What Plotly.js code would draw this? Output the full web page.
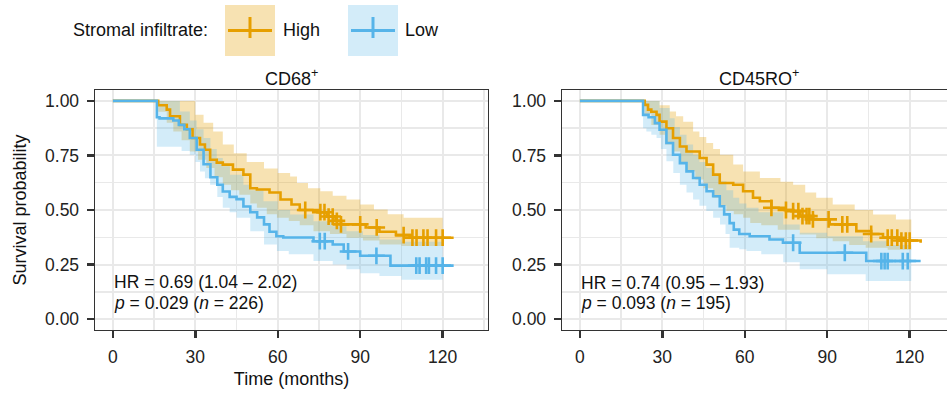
<!DOCTYPE html>
<html><head><meta charset="utf-8">
<script src="https://cdn.plot.ly/plotly-3.0.1.min.js"></script>
<style>html,body{margin:0;padding:0;overflow:hidden;background:#fff}#chart{width:960px;height:393px}</style>
</head><body><div id="chart"></div>
<script>
// ---------- Data ----------
const panelTitles = ['CD68<sup>+</sup>', 'CD45RO<sup>+</sup>'];
const groupNames = ['High', 'Low'];

// CD68+ : High
const cd68HighT = [0, 16.5, 19.6, 20.8, 24.4, 26.9, 29, 31.7, 33.5, 35.4, 37.8, 40, 43.7, 47.5, 50, 52.4, 57, 61, 65, 68, 75, 78, 81, 83, 92, 97, 103, 108, 124];
const cd68HighS = [1.0, 0.98, 0.96, 0.93, 0.89, 0.87, 0.83, 0.80, 0.776, 0.73, 0.717, 0.708, 0.685, 0.662, 0.60, 0.594, 0.58, 0.548, 0.525, 0.50, 0.49, 0.47, 0.45, 0.434, 0.42, 0.40, 0.385, 0.373, 0.373];
const cd68HighCens = [70, 75.5, 77, 78.5, 80, 81.5, 83, 90, 96, 105.8, 109, 110.5, 113, 114.5, 117.6, 120];
const cd68HighUpT = [16.5, 30, 33, 36.5, 40, 44, 48.7, 55, 60, 64.5, 67, 71, 75.5, 80, 85, 90, 95, 100, 105.8, 120];
const cd68HighUpS = [1.0, 0.936, 0.90, 0.86, 0.80, 0.76, 0.72, 0.69, 0.67, 0.654, 0.624, 0.60, 0.586, 0.565, 0.548, 0.525, 0.502, 0.48, 0.464, 0.457];
const cd68HighLoT = [16.5, 19.6, 22, 25, 28, 31, 34, 37, 40, 43, 46, 50, 52.4, 56, 59.7, 64, 68, 73, 79, 85, 91, 97, 105, 120];
const cd68HighLoS = [0.95, 0.90, 0.86, 0.82, 0.768, 0.73, 0.692, 0.65, 0.616, 0.59, 0.57, 0.53, 0.51, 0.48, 0.464, 0.45, 0.43, 0.403, 0.39, 0.373, 0.36, 0.342, 0.335, 0.327];

// CD68+ : Low
const cd68LowT = [0, 16, 17, 22, 24, 26, 28, 30.5, 33, 35.5, 38, 40, 42.5, 45, 47.5, 50, 52.5, 55, 57, 59.5, 62, 73, 80, 84, 90, 101, 124];
const cd68LowS = [1.0, 0.925, 0.92, 0.91, 0.89, 0.87, 0.83, 0.776, 0.71, 0.65, 0.616, 0.585, 0.56, 0.55, 0.516, 0.49, 0.466, 0.434, 0.40, 0.38, 0.374, 0.357, 0.342, 0.31, 0.29, 0.245, 0.245];
const cd68LowCens = [75.3, 77.1, 85.6, 95.9, 110.4, 111.6, 114, 115, 117.6, 120];
const cd68LowUpT = [16, 24.4, 28, 30.5, 33, 35.5, 37.8, 40, 42.6, 47.5, 50, 54.8, 60, 64.5, 73, 80, 85, 91, 97, 105, 120];
const cd68LowUpS = [1.0, 0.951, 0.91, 0.87, 0.83, 0.78, 0.738, 0.70, 0.662, 0.616, 0.59, 0.54, 0.50, 0.479, 0.449, 0.425, 0.403, 0.385, 0.365, 0.355, 0.342];
const cd68LowLoT = [16, 25, 28, 30, 31.7, 33.5, 35.4, 38, 40, 42.5, 45, 50, 55, 59.7, 64, 73, 80, 85, 90, 97, 105, 120];
const cd68LowLoS = [0.79, 0.77, 0.753, 0.72, 0.677, 0.645, 0.616, 0.56, 0.51, 0.49, 0.464, 0.403, 0.342, 0.312, 0.297, 0.266, 0.25, 0.228, 0.21, 0.198, 0.18, 0.16];

// CD45RO+ : High
const cd45HighT = [0, 23.6, 24.8, 26, 27.9, 29, 31.5, 33.9, 36.4, 38.8, 43.6, 46.1, 48.5, 50.9, 55.8, 59.4, 63, 65.5, 69.7, 74.5, 77.6, 80, 84.8, 90.9, 100.6, 106, 110.3, 116, 124];
const cd45HighS = [1.0, 0.982, 0.96, 0.95, 0.936, 0.905, 0.875, 0.83, 0.791, 0.768, 0.738, 0.708, 0.662, 0.624, 0.616, 0.586, 0.556, 0.54, 0.51, 0.50, 0.495, 0.472, 0.457, 0.434, 0.403, 0.39, 0.373, 0.36, 0.35];
const cd45HighCens = [69.7, 75, 77.6, 79.5, 81, 82.5, 83.5, 84.8, 90.5, 95.5, 97.3, 106, 112, 113.5, 115.5, 117, 118.6, 120];
const cd45HighUpT = [23.6, 29, 32.7, 35, 37.6, 41.2, 43.5, 46, 48.5, 51, 55.8, 59.4, 65.5, 73, 77.6, 82, 86, 92, 100, 106.7, 115, 120.6];
const cd45HighUpS = [1.0, 0.98, 0.951, 0.93, 0.905, 0.86, 0.835, 0.807, 0.78, 0.753, 0.708, 0.677, 0.647, 0.63, 0.616, 0.58, 0.556, 0.525, 0.50, 0.479, 0.457, 0.44];
const cd45HighLoT = [23.6, 26, 29, 31, 34, 36.5, 38.8, 42, 45, 48.5, 51, 53.3, 56, 59.4, 62, 66, 72, 80, 86, 92, 98, 104, 112, 120.6];
const cd45HighLoS = [0.94, 0.89, 0.845, 0.80, 0.768, 0.72, 0.677, 0.64, 0.60, 0.556, 0.52, 0.495, 0.48, 0.464, 0.44, 0.43, 0.41, 0.388, 0.37, 0.357, 0.34, 0.327, 0.318, 0.312];

// CD45RO+ : Low
const cd45LowT = [0, 23, 25, 27.3, 29, 31.5, 33.9, 36.4, 38.8, 41.2, 43.6, 46.1, 48.5, 50.9, 52.5, 54.5, 56, 58, 61.8, 69, 73.9, 80, 104.2, 124];
const cd45LowS = [1.0, 0.936, 0.925, 0.898, 0.868, 0.807, 0.753, 0.715, 0.677, 0.647, 0.616, 0.586, 0.563, 0.517, 0.48, 0.44, 0.41, 0.39, 0.38, 0.365, 0.35, 0.304, 0.266, 0.266];
const cd45LowCens = [77.6, 96.4, 109.7, 110.9, 112, 117.5, 119.3];
const cd45LowUpT = [23, 29, 32.7, 34.5, 36.4, 38.8, 41.2, 43.5, 46, 48.5, 51, 53.3, 55.8, 58, 60.6, 65, 74, 80, 90, 103, 112, 120.6];
const cd45LowUpS = [1.0, 0.967, 0.92, 0.88, 0.845, 0.80, 0.753, 0.72, 0.692, 0.66, 0.632, 0.59, 0.556, 0.53, 0.51, 0.49, 0.434, 0.396, 0.38, 0.357, 0.34, 0.327];
const cd45LowLoT = [23, 24.2, 26, 27.9, 29.5, 31.5, 34, 36.4, 38.8, 41.2, 43.5, 46, 48.5, 51, 53, 54.5, 58, 60.6, 66, 74, 80, 90, 104, 120.6];
const cd45LowLoS = [0.875, 0.86, 0.845, 0.83, 0.78, 0.723, 0.67, 0.616, 0.58, 0.548, 0.52, 0.495, 0.465, 0.434, 0.39, 0.327, 0.32, 0.312, 0.297, 0.26, 0.228, 0.205, 0.175, 0.175];

const statsLine1 = ['HR = 0.69 (1.04 – 2.02)', 'HR = 0.74 (0.95 – 1.93)'];
const statsLine2 = ['<i>p</i> = 0.029 (<i>n</i> = 226)', '<i>p</i> = 0.093 (<i>n</i> = 195)'];

// ---------- Styling ----------
const W = 960, H = 393;
const FONT = '"Liberation Sans", Arial, Helvetica, sans-serif';
const colLine = {High: '#E69F00', Low: '#56B4E9'};
const colFill = {High: 'rgba(230,159,0,0.30)', Low: 'rgba(86,180,233,0.26)'};
const px = v => v / W;
const py = v => 1 - v / H;

function stepAt(T, S, t) { let v = S[0]; for (let i = 0; i < T.length; i++) if (T[i] <= t) v = S[i]; return v; }

const panels = [
  {xa: 'x', ya: 'y', High: [cd68HighT, cd68HighS, cd68HighCens, cd68HighUpT, cd68HighUpS, cd68HighLoT, cd68HighLoS],
                     Low: [cd68LowT, cd68LowS, cd68LowCens, cd68LowUpT, cd68LowUpS, cd68LowLoT, cd68LowLoS]},
  {xa: 'x2', ya: 'y2', High: [cd45HighT, cd45HighS, cd45HighCens, cd45HighUpT, cd45HighUpS, cd45HighLoT, cd45HighLoS],
                       Low: [cd45LowT, cd45LowS, cd45LowCens, cd45LowUpT, cd45LowUpS, cd45LowLoT, cd45LowLoS]}
];

const traces = [];
panels.forEach(p => {
  groupNames.forEach(g => {
    const [T, S, C, UT, US, LT, LS] = p[g];
    traces.push({x: LT, y: LS, xaxis: p.xa, yaxis: p.ya, mode: 'lines', line: {shape: 'hv', width: 0, color: 'rgba(0,0,0,0)'}, showlegend: false, hoverinfo: 'skip'});
    traces.push({x: UT, y: US, xaxis: p.xa, yaxis: p.ya, mode: 'lines', line: {shape: 'hv', width: 0, color: 'rgba(0,0,0,0)'}, fill: 'tonexty', fillcolor: colFill[g], showlegend: false, hoverinfo: 'skip'});
  });
  groupNames.forEach(g => {
    const [T, S] = p[g];
    traces.push({x: T, y: S, xaxis: p.xa, yaxis: p.ya, mode: 'lines', name: g, line: {shape: 'hv', width: 2.6, color: colLine[g]}, showlegend: false});
  });
  groupNames.forEach(g => {
    const [T, S, C] = p[g];
    traces.push({x: C, y: C.map(t => stepAt(T, S, t)), xaxis: p.xa, yaxis: p.ya, mode: 'markers', showlegend: false,
      marker: {symbol: 'cross-thin', size: 12, color: colLine[g], line: {width: 2.6, color: colLine[g]}}});
  });
});

const grid = '#e9e9e9';
function xAxis(domain, anchor, withTitle) {
  const a = {domain, anchor, range: [-6.5, 136.5], tickmode: 'linear', tick0: 0, dtick: 30, ticks: 'outside', ticklen: 7, tickwidth: 2.4, tickcolor: '#333',
    showline: true, mirror: true, linecolor: '#333', linewidth: 1.4, showgrid: true, gridcolor: grid, gridwidth: 2, zeroline: false,
    minor: {dtick: 15, tick0: 0, showgrid: true, gridcolor: grid, gridwidth: 1.4, ticks: ''},
    tickfont: {family: FONT, size: 17.5, color: '#222'}, ticklabelstandoff: 4, fixedrange: true};
  if (withTitle) a.title = {text: 'Time (months)', font: {family: FONT, size: 18, color: '#111'}, standoff: 6};
  return a;
}
function yAxis(anchor, withTitle) {
  const a = {domain: [1 - 330 / H, 1 - 90 / H], anchor, range: [-0.05, 1.05], tickmode: 'linear', tick0: 0, dtick: 0.25, tickformat: '.2f',
    ticks: 'outside', ticklen: 7, tickwidth: 2.4, tickcolor: '#333', showline: true, mirror: true, linecolor: '#333', linewidth: 1.4,
    showgrid: true, gridcolor: grid, gridwidth: 2, zeroline: false,
    minor: {dtick: 0.125, tick0: 0, showgrid: true, gridcolor: grid, gridwidth: 1.4, ticks: ''},
    tickfont: {family: FONT, size: 17.5, color: '#222'}, ticklabelstandoff: 4, fixedrange: true};
  if (withTitle) a.title = {text: 'Survival probability', font: {family: FONT, size: 18, color: '#111'}, standoff: 13};
  return a;
}

const annFont = {family: FONT, size: 18, color: '#111'};
const statFont = {family: FONT, size: 17.5, color: '#111'};
const annotations = [
  {xref: 'paper', yref: 'paper', x: px(291.5), y: py(77), text: panelTitles[0], showarrow: false, xanchor: 'center', yanchor: 'middle', font: annFont},
  {xref: 'paper', yref: 'paper', x: px(758.5), y: py(77), text: panelTitles[1], showarrow: false, xanchor: 'center', yanchor: 'middle', font: annFont},
  {xref: 'x', yref: 'y', x: 0, y: 0.1705, text: statsLine1[0], showarrow: false, xanchor: 'left', yanchor: 'middle', font: statFont, borderpad: 0},
  {xref: 'x', yref: 'y', x: 0, y: 0.075, text: statsLine2[0], showarrow: false, xanchor: 'left', yanchor: 'middle', font: statFont, borderpad: 0},
  {xref: 'x2', yref: 'y2', x: 0, y: 0.166, text: statsLine1[1], showarrow: false, xanchor: 'left', yanchor: 'middle', font: statFont, borderpad: 0},
  {xref: 'x2', yref: 'y2', x: 0, y: 0.073, text: statsLine2[1], showarrow: false, xanchor: 'left', yanchor: 'middle', font: statFont, borderpad: 0},
  {xref: 'paper', yref: 'paper', x: px(210), y: py(30), text: 'Stromal infiltrate:', showarrow: false, xanchor: 'right', yanchor: 'middle', font: annFont},
  {xref: 'paper', yref: 'paper', x: px(281), y: py(30), text: groupNames[0], showarrow: false, xanchor: 'left', yanchor: 'middle', font: annFont},
  {xref: 'paper', yref: 'paper', x: px(403), y: py(30), text: groupNames[1], showarrow: false, xanchor: 'left', yanchor: 'middle', font: annFont}
];

const shapes = [];
[[225, 'High'], [348, 'Low']].forEach(([x0, g]) => {
  shapes.push({type: 'rect', xref: 'paper', yref: 'paper', x0: px(x0), x1: px(x0 + 50), y0: py(56), y1: py(5), fillcolor: colFill[g], line: {width: 0}});
  shapes.push({type: 'line', xref: 'paper', yref: 'paper', x0: px(x0 + 3), x1: px(x0 + 47), y0: py(30.5), y1: py(30.5), line: {color: colLine[g], width: 3}});
  shapes.push({type: 'line', xref: 'paper', yref: 'paper', x0: px(x0 + 25), x1: px(x0 + 25), y0: py(17), y1: py(38), line: {color: colLine[g], width: 3}});
});

const layout = {
  width: W, height: H, margin: {l: 0, r: 0, t: 0, b: 0}, paper_bgcolor: '#fff', plot_bgcolor: '#fff',
  font: {family: FONT, color: '#222'}, showlegend: false,
  xaxis: xAxis([95 / W, 488 / W], 'y', true),
  yaxis: yAxis('x', true),
  xaxis2: xAxis([562 / W, 955 / W], 'y2', false),
  yaxis2: yAxis('x2', false),
  annotations, shapes
};

Plotly.newPlot('chart', traces, layout, {staticPlot: true, displayModeBar: false});
</script></body></html>
